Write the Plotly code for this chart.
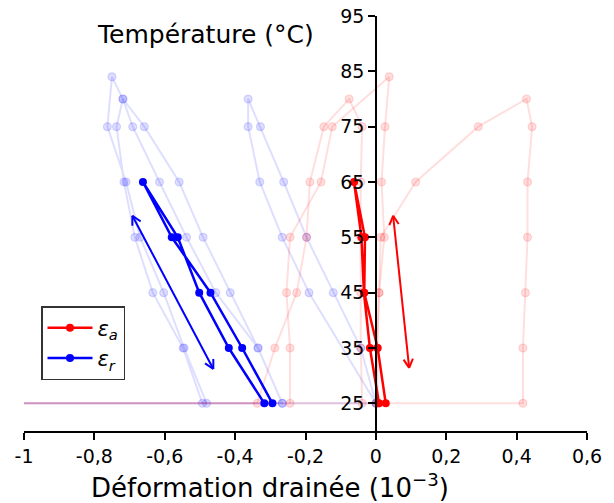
import math
import plotly.graph_objects as go

# ---------------- data ----------------
T_CYCLE = [25, 35, 45, 55, 65, 55, 45, 35, 25]
EPS_A = [0.028, 0.005, -0.033, -0.031, -0.062, -0.041, -0.034, -0.017, 0.009]
EPS_R = [-0.294, -0.380, -0.470, -0.580, -0.662, -0.563, -0.502, -0.418, -0.317]

# faded (other cycles) – radial strain
BL_T = [25, 35, 45, 55, 65, 75, 84, 80, 75, 65, 55, 45, 35, 25]
BL_X = [-0.481, -0.545, -0.603, -0.670, -0.710, -0.763, -0.750, -0.719, -0.737, -0.716, -0.685, -0.634, -0.548, -0.493]
BM_T = [25, 25, 35, 45, 55, 65, 75, 80, 75, 65, 55, 45, 35, 25]
BM_X = [-1.2, -0.266, -0.335, -0.414, -0.491, -0.559, -0.658, -0.719, -0.691, -0.615, -0.538, -0.455, -0.335, -0.266]
BR_T = [25, 25, 35, 45, 55, 65, 75, 80, 75, 65, 55, 45, 25]
BR_X = [-1.2, 0.0, -0.043, -0.121, -0.197, -0.262, -0.328, -0.363, -0.363, -0.330, -0.266, -0.190, 0.0]

# faded (other cycles) – axial strain
RL1_T = [25, 35, 45, 55, 65, 75, 84, 75, 65, 55, 45, 35, 25]
RL1_X = [-0.244, -0.244, -0.254, -0.244, -0.156, -0.124, 0.038, 0.026, 0.016, 0.024, 0.009, 0.004, 0.006]
RL2_T = [25, 25, 35, 45, 55, 65, 75, 80, 75, 65, 55, 45, 35, 25]
RL2_X = [-1.2, -0.337, -0.287, -0.225, -0.197, -0.1875, -0.148, -0.076, -0.039, -0.043, -0.043, -0.043, -0.043, -0.039]
RR_T = [25, 25, 35, 45, 55, 65, 75, 80, 75, 65, 55, 45, 35, 25]
RR_X = [-1.2, 0.418, 0.418, 0.425, 0.431, 0.431, 0.444, 0.428, 0.291, 0.113, 0.014, 0.009, 0.003, 0.001]

# double arrows (start, end) in data units
ARROWS = [
    ((-0.462, 31.2), (-0.692, 58.9), "blue"),
    ((0.0946, 31.4), (0.049, 58.9), "red"),
]

X_TICKS = [-1, -0.8, -0.6, -0.4, -0.2, 0, 0.2, 0.4, 0.6]
X_TICKTEXT = ["-1", "-0,8", "-0,6", "-0,4", "-0,2", "0", "0,2", "0,4", "0,6"]
Y_TICKS = [25, 35, 45, 55, 65, 75, 85, 95]

# ---------------- layout constants ----------------
W, H = 614, 503
ML, MR, MT, MB = 24, 27, 16, 72
XR = [-1, 0.6]
YR = [20, 95]
FONT = "DejaVu Sans"

pw = W - ML - MR
ph = H - MT - MB


def px_x(p):
    return (p - ML) / pw


def px_y(p):
    return (H - MB - p) / ph


fig = go.Figure()

FB = "rgba(0,0,255,0.13)"
FR = "rgba(255,0,0,0.13)"


def faded(x, y, col):
    fig.add_trace(go.Scatter(
        x=x, y=y, mode="lines+markers", showlegend=False, hoverinfo="skip",
        line=dict(color=col, width=2),
        marker=dict(size=8, color=col, line=dict(color=col, width=1.2)),
    ))


faded(BL_X, BL_T, FB)
faded(BM_X, BM_T, FB)
faded(BR_X, BR_T, FB)
faded(RL1_X, RL1_T, FR)
faded(RL2_X, RL2_T, FR)
faded(RR_X, RR_T, FR)

fig.add_trace(go.Scatter(
    x=EPS_A, y=T_CYCLE, mode="lines+markers", name="<i>ε</i><sub><i>a</i></sub>",
    line=dict(color="red", width=2.5), marker=dict(size=8, color="red"),
    legendgroup="a",
))
fig.add_trace(go.Scatter(
    x=EPS_R, y=T_CYCLE, mode="lines+markers", name="<i>ε</i><sub><i>r</i></sub>",
    line=dict(color="blue", width=2.5), marker=dict(size=8, color="blue"),
    legendgroup="r",
))

# arrows built from endpoints (pixel-space chevrons)
sx = pw / (XR[1] - XR[0])
sy = ph / (YR[1] - YR[0])
L, TH = 10.0, math.radians(28)
for (p0, p1, col) in ARROWS:
    xs = [p0[0], p1[0], None]
    ys = [p0[1], p1[1], None]
    for tip, base in ((p1, p0), (p0, p1)):
        ux = (tip[0] - base[0]) * sx
        uy = (tip[1] - base[1]) * sy
        n = math.hypot(ux, uy)
        ux, uy = ux / n, uy / n
        for s in (1, -1):
            c, si = math.cos(s * TH), math.sin(s * TH)
            rx = ux * c - uy * si
            ry = ux * si + uy * c
            xs += [tip[0] - L * rx / sx, tip[0], None]
            ys += [tip[1] - L * ry / sy, tip[1], None]
    fig.add_trace(go.Scatter(x=xs, y=ys, mode="lines", showlegend=False,
                             hoverinfo="skip", line=dict(color=col, width=2)))

fig.update_layout(
    width=W, height=H,
    margin=dict(l=ML, r=MR, t=MT, b=MB, autoexpand=False),
    paper_bgcolor="white", plot_bgcolor="white",
    font=dict(family=FONT, color="black", size=18),
    xaxis=dict(range=XR, tickvals=X_TICKS, ticktext=X_TICKTEXT, showgrid=False,
               zeroline=False, showline=True, linecolor="black", linewidth=1.5,
               ticks="outside", ticklen=7, tickwidth=1.5, tickcolor="black",
               tickfont=dict(size=19), automargin=False, ticklabeloverflow="allow"),
    yaxis=dict(range=YR, tickvals=Y_TICKS, showgrid=False, zeroline=False,
               showline=True, linecolor="black", linewidth=1.5,
               ticks="outside", ticklen=7, tickwidth=1.5, tickcolor="black",
               anchor="free", position=(0 - XR[0]) / (XR[1] - XR[0]), side="left",
               tickfont=dict(size=19), automargin=False, ticklabeloverflow="allow"),
    legend=dict(x=px_x(41), y=px_y(306), xanchor="left", yanchor="top",
                bgcolor="white", bordercolor="#333333", borderwidth=1.5,
                font=dict(size=21), tracegroupgap=0, itemwidth=45),
    showlegend=True,
    annotations=[
        dict(text="Température (°C)", xref="paper", yref="paper",
             x=px_x(316), y=px_y(35), xanchor="right", yanchor="middle",
             showarrow=False, font=dict(size=25)),
        dict(text="Déformation drainée (10<sup>−3</sup>)", xref="paper", yref="paper",
             x=px_x(269.5), y=px_y(486), xanchor="center", yanchor="middle",
             showarrow=False, font=dict(size=26)),
    ],
)

fig.write_html("out.html", config={"displayModeBar": False},
               post_script="document.body.style.margin='0';")
